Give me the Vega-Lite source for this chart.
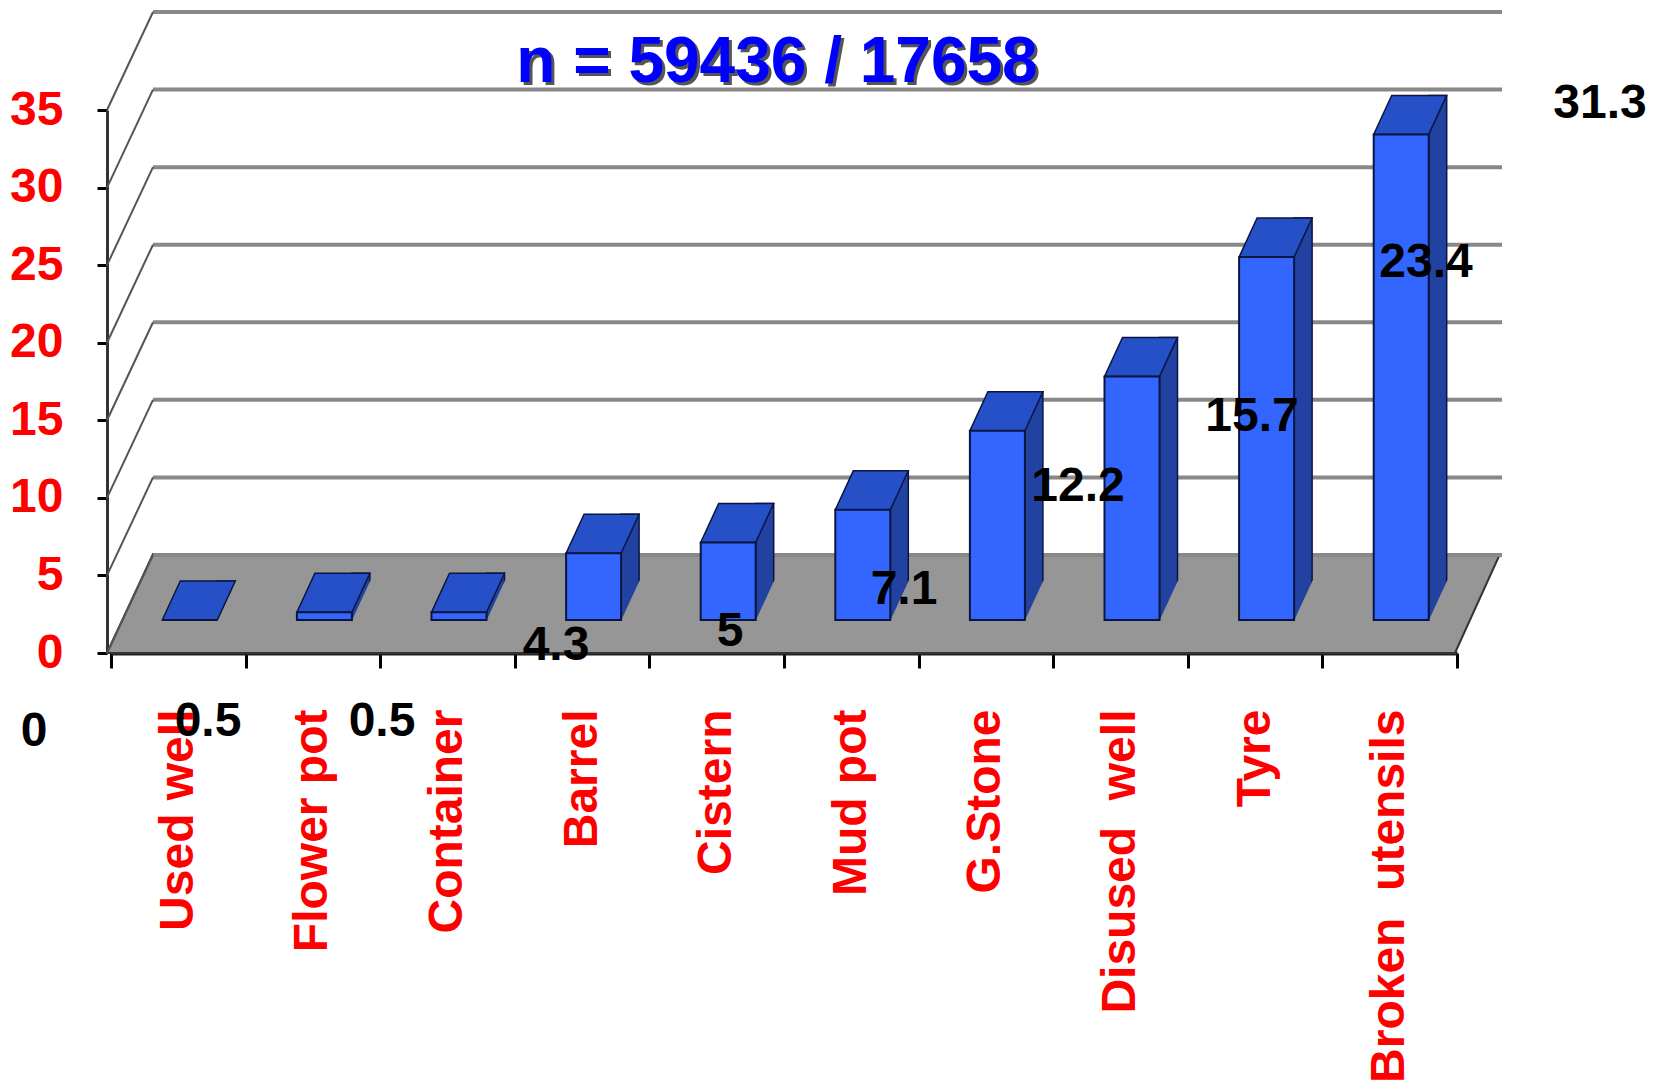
{
  "$schema": "https://vega.github.io/schema/vega-lite/v6.json",
  "width": 1346,
  "height": 543,
  "autosize": {"type": "none"},
  "padding": {"left": 111, "top": 110, "right": 207, "bottom": 430},
  "background": "white",
  "config": {
    "view": {"stroke": null},
    "font": "Liberation Sans",
    "axisX": {
      "title": null, "domainColor": "#222222", "domainWidth": 4,
      "tickColor": "#000000", "tickWidth": 3, "tickSize": 15, "tickBand": "extent",
      "labelAngle": -90, "labelAlign": "right", "labelBaseline": "middle",
      "labelFontSize": 48, "labelFontWeight": "bold", "labelColor": "#ff0000",
      "labelPadding": 41, "labelLimit": 0, "labelOverlap": false, "grid": false
    },
    "axisY": {
      "title": null, "offset": 4, "domainColor": "#333333", "domainWidth": 3,
      "tickColor": "#000000", "tickWidth": 3, "tickSize": 10,
      "labelFontSize": 48, "labelFontWeight": "bold", "labelColor": "#ff0000",
      "labelPadding": 34, "grid": false, "tickCount": 8
    }
  },
  "datasets": {
    "bars": [
      {"category": "Used well", "value": 0},
      {"category": "Flower pot", "value": 0.5},
      {"category": "Container", "value": 0.5},
      {"category": "Barrel", "value": 4.3},
      {"category": "Cistern", "value": 5},
      {"category": "Mud pot", "value": 7.1},
      {"category": "G.Stone", "value": 12.2},
      {"category": "Disused\u00a0 well", "value": 15.7},
      {"category": "Tyre", "value": 23.4},
      {"category": "Broken\u00a0 utensils", "value": 31.3}
    ],
    "ticks": [{"v": 0}, {"v": 5}, {"v": 10}, {"v": 15}, {"v": 20}, {"v": 25}, {"v": 30}, {"v": 35}]
  },
  "layer": [
    {
      "layer": [
        {
          "data": {"name": "ticks"},
          "transform": [{"filter": "datum.v == 0"}],
          "mark": {"type": "point", "shape": "M-677,0 L671,0 L716,-99 L-631,-99 Z", "size": 4, "filled": true, "fill": "#969696", "stroke": "#333333", "strokeWidth": 2, "opacity": 1},
          "encoding": {"y": {"field": "v", "type": "quantitative", "scale": {"domain": [0, 35], "nice": false}}}
        },
        {
          "data": {"name": "ticks"},
          "mark": {"type": "point", "shape": "M-631,-98 L718,-98", "size": 4, "filled": false, "stroke": "#888888", "strokeWidth": 4, "opacity": 1},
          "encoding": {"y": {"field": "v", "type": "quantitative"}}
        },
        {
          "data": {"name": "ticks"},
          "mark": {"type": "point", "shape": "M-677,0 L-631,-98", "size": 4, "filled": false, "stroke": "#555555", "strokeWidth": 2, "opacity": 1},
          "encoding": {"y": {"field": "v", "type": "quantitative"}}
        },
        {
          "data": {"name": "bars"},
          "mark": {"type": "bar", "width": 18, "xOffset": 48, "yOffset": -72, "y2Offset": -33, "fill": "#2142a0", "stroke": "#0b1640", "strokeWidth": 1.5},
          "encoding": {
            "x": {"field": "category", "type": "nominal", "sort": null, "scale": {"paddingInner": 0, "paddingOuter": 0}},
            "y": {"field": "value", "type": "quantitative"},
            "y2": {"datum": 0}
          }
        },
        {
          "data": {"name": "bars"},
          "mark": {"type": "point", "shape": "M39,0.5 L57.5,-39.5 L59,-39.5 L59,2 L39,2 Z", "size": 4, "filled": true, "fill": "#969696", "strokeWidth": 0, "opacity": 1, "yOffset": -33},
          "encoding": {
            "x": {"field": "category", "type": "nominal", "sort": null},
            "y": {"datum": 0, "type": "quantitative"}
          }
        },
        {
          "data": {"name": "bars"},
          "mark": {"type": "point", "shape": "M-16,0 L39,0 L57,-39 L2,-39 Z", "size": 4, "filled": true, "fill": "#2650c8", "stroke": "#0b1640", "strokeWidth": 1.5, "opacity": 1, "yOffset": -33},
          "encoding": {
            "x": {"field": "category", "type": "nominal", "sort": null},
            "y": {"field": "value", "type": "quantitative"}
          }
        },
        {
          "data": {"name": "bars"},
          "mark": {"type": "bar", "width": 55, "xOffset": 11.5, "yOffset": -33, "y2Offset": -33, "fill": "#3366ff", "stroke": "#0b1640", "strokeWidth": 2},
          "encoding": {
            "x": {"field": "category", "type": "nominal", "sort": null},
            "y": {"field": "value", "type": "quantitative"},
            "y2": {"datum": 0}
          }
        },
        {
          "data": {"name": "ticks"},
          "transform": [{"filter": "datum.v == 35"}],
          "mark": {"type": "text", "text": "n = 59436 / 17658", "fontSize": 64, "fontWeight": "bold", "fill": "#555555", "baseline": "alphabetic", "align": "center", "dx": -4, "dy": -25},
          "encoding": {"y": {"field": "v", "type": "quantitative"}}
        },
        {
          "data": {"name": "ticks"},
          "transform": [{"filter": "datum.v == 35"}],
          "mark": {"type": "text", "text": "n = 59436 / 17658", "fontSize": 64, "fontWeight": "bold", "fill": "#0000ff", "baseline": "alphabetic", "align": "center", "dx": -7, "dy": -28},
          "encoding": {"y": {"field": "v", "type": "quantitative"}}
        }
      ]
    },
    {
      "data": {"name": "bars"},
      "mark": {"type": "text", "fontSize": 48, "fontWeight": "bold", "fill": "#000000", "baseline": "middle", "align": "center"},
      "encoding": {
        "x": {"field": "category", "type": "nominal", "sort": null, "axis": null, "scale": {"type": "point", "range": [-77, 1489], "padding": 0}},
        "y": {"field": "value", "type": "quantitative", "axis": null, "scale": {"domain": [0, 35], "nice": false, "zero": false, "range": [622, -80]}},
        "text": {"field": "value", "type": "quantitative"}
      }
    }
  ],
  "resolve": {"scale": {"x": "independent", "y": "independent"}}
}
